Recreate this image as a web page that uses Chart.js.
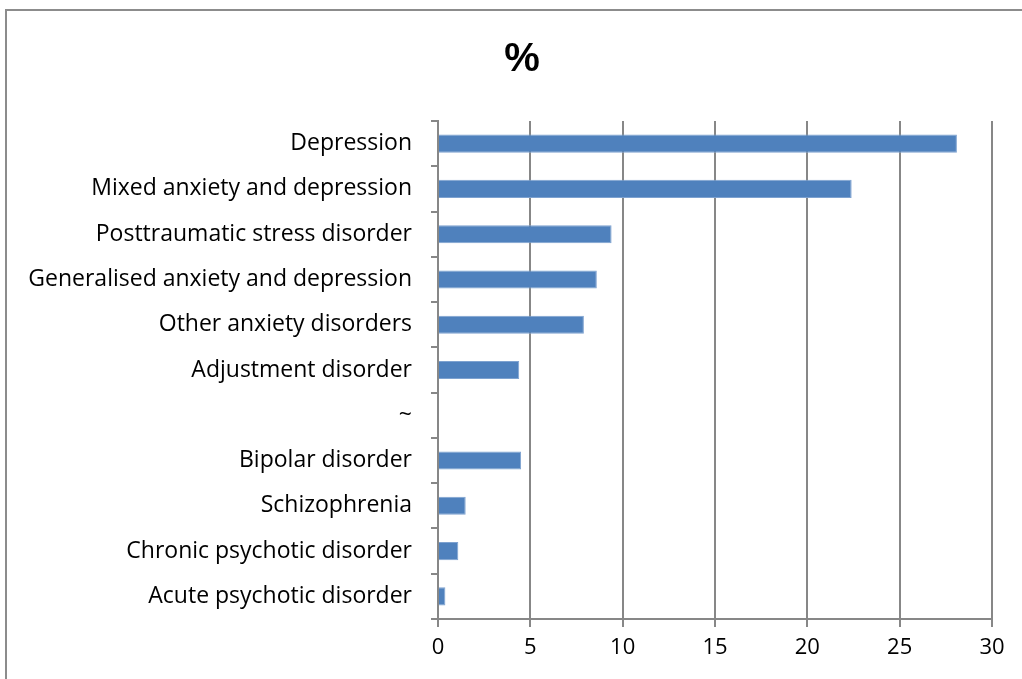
<!DOCTYPE html>
<html>
<head>
<meta charset="utf-8">
<script src="https://cdn.jsdelivr.net/npm/chart.js@4"></script>
<style>
  body { margin: 0; background: #fff; }
  #frame { position: absolute; left: 5px; top: 9px; width: 1100px; height: 800px; border: 2px solid #8c8c8c; }
  #wrap { position: absolute; left: 0; top: 0; width: 1022px; height: 679px; }
</style>
</head>
<body>
<div id="frame"></div>
<div id="wrap"><canvas id="barChart" width="1022" height="679"></canvas></div>
<script>
const labels = [
    'Depression',
    'Mixed anxiety and depression',
    'Posttraumatic stress disorder',
    'Generalised anxiety and depression',
    'Other anxiety disorders',
    'Adjustment disorder',
    '~',
    'Bipolar disorder',
    'Schizophrenia',
    'Chronic psychotic disorder',
    'Acute psychotic disorder'
];
const percent = [28.1, 22.4, 9.4, 8.6, 7.9, 4.4, null, 4.5, 1.5, 1.1, 0.4];
const xTicks = [0, 5, 10, 15, 20, 25, 30];

const axisGrey = '#878787';
const fontFamily = '"Open Sans", Lato, sans-serif';

// nudge the title a bit right so it sits over the middle of the frame
const titleShift = {
    id: 'titleShift',
    afterLayout(chart) {
        if (chart.titleBlock) chart.titleBlock.left += 52;
    }
};

const ctx = document.getElementById('barChart').getContext('2d');
new Chart(ctx, {
    type: 'bar',
    data: {
        labels: labels,
        datasets: [
            {
                label: '%',
                data: percent,
                backgroundColor: '#4f81bd',
                borderColor: '#7ea2d0',
                borderWidth: 1,
                borderSkipped: 'left',
                barPercentage: 0.4,
                categoryPercentage: 1
            }
        ]
    },
    options: {
        indexAxis: 'y',
        responsive: false,
        animation: false,
        layout: {
            padding: { left: 0, right: 30, top: 0, bottom: 0 }
        },
        scales: {
            x: {
                min: 0,
                max: 30,
                afterBuildTicks: scale => {
                    scale.ticks = xTicks.map(v => ({ value: v }));
                },
                afterFit: scale => { scale.height = 60; },
                grid: {
                    color: axisGrey,
                    lineWidth: 2,
                    drawTicks: true,
                    tickLength: 8
                },
                border: { color: axisGrey, width: 2 },
                ticks: {
                    color: '#000',
                    padding: 8,
                    font: { family: fontFamily, size: 22 }
                }
            },
            y: {
                afterFit: scale => { scale.width = 438; },
                grid: {
                    offset: true,
                    drawOnChartArea: false,
                    drawTicks: true,
                    tickLength: 7,
                    color: axisGrey,
                    lineWidth: 2
                },
                border: { color: axisGrey, width: 2 },
                ticks: {
                    color: '#000',
                    padding: 19,
                    font: { family: fontFamily, size: 23 }
                }
            }
        },
        plugins: {
            legend: { display: false },
            tooltip: { enabled: false },
            title: {
                display: true,
                text: '%',
                color: '#000',
                font: { family: 'Arial, "Liberation Sans", sans-serif', size: 40, weight: 'bold' },
                padding: { top: 36, bottom: 37 }
            }
        }
    },
    plugins: [titleShift]
});
</script>
</body>
</html>
